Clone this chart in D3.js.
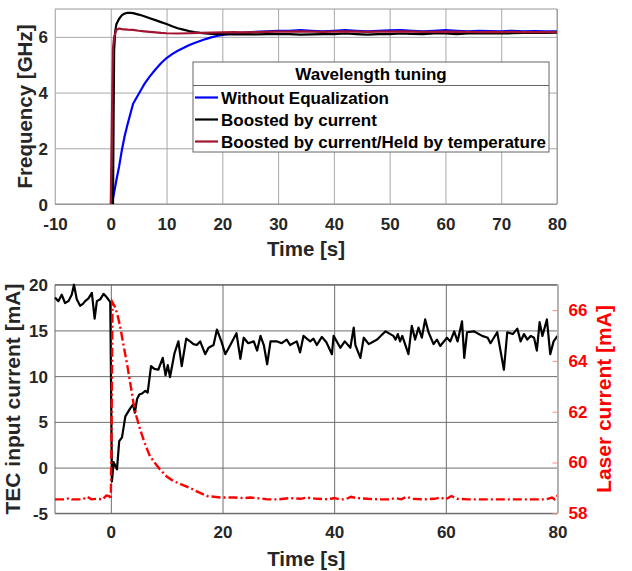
<!DOCTYPE html>
<html>
<head>
<meta charset="utf-8">
<script src="https://cdn.jsdelivr.net/npm/d3@7"></script>
<style>
  body { margin: 0; background: #fff; }
  svg { display: block; font-family: "Liberation Sans", Arial, sans-serif; font-weight: bold; }
</style>
</head>
<body>
<svg width="632" height="571"></svg>
<script>
// ---- top chart: wavelength tuning ----
var blue_t = [0.2, 0.5, 1, 1.5, 2, 2.5, 3, 4, 5, 6, 7, 8, 9, 10, 11, 12, 13, 14, 15, 16, 17, 18, 19, 20,
  22, 24, 26, 28, 30, 32, 34, 36, 38, 40, 42, 44, 46, 48, 50, 52, 54, 56, 58, 60, 62, 64, 66, 68, 70, 72, 74, 76, 78, 80];
var blue_f = [0, 0.3, 0.85, 1.35, 1.95, 2.45, 2.85, 3.6, 3.95, 4.3, 4.58, 4.83, 5.05, 5.24, 5.38, 5.5, 5.6, 5.7, 5.78, 5.85, 5.92, 5.98, 6.03, 6.07,
  6.12, 6.15, 6.18, 6.2, 6.22, 6.22, 6.24, 6.22, 6.2, 6.22, 6.24, 6.22, 6.2, 6.22, 6.23, 6.24, 6.22, 6.2, 6.22, 6.24, 6.22, 6.2, 6.22, 6.21, 6.2, 6.22, 6.2, 6.21, 6.2, 6.2];

var black_t = [0.4, 0.5, 0.6, 0.8, 1, 1.5, 2, 2.5, 3, 3.5, 4, 5, 6, 7, 8, 9, 10, 11, 12, 13, 14, 15, 16, 17, 18, 19, 20,
  22, 24, 26, 28, 30, 32, 34, 36, 38, 40, 42, 44, 46, 48, 50, 52, 54, 56, 58, 60, 62, 64, 66, 68, 70, 72, 74, 76, 78, 80];
var black_f = [0, 3.0, 5.5, 6.2, 6.45, 6.65, 6.78, 6.84, 6.86, 6.86, 6.85, 6.8, 6.74, 6.67, 6.6, 6.53, 6.46, 6.38, 6.31, 6.26, 6.21, 6.17, 6.14, 6.12, 6.11, 6.1, 6.1,
  6.09, 6.1, 6.09, 6.1, 6.1, 6.1, 6.08, 6.09, 6.1, 6.1, 6.12, 6.1, 6.08, 6.1, 6.1, 6.12, 6.11, 6.1, 6.12, 6.12, 6.1, 6.12, 6.13, 6.12, 6.12, 6.13, 6.14, 6.14, 6.14, 6.15];

var held_t = [0, 0.2, 0.4, 0.6, 1, 1.5, 2, 3, 4, 5, 6, 7, 8, 9, 10, 12, 14, 16, 18, 20,
  22, 24, 26, 28, 30, 32, 34, 36, 38, 40, 42, 44, 46, 48, 50, 52, 54, 56, 58, 60, 62, 64, 66, 68, 70, 72, 74, 76, 78, 80];
var held_f = [0, 3, 5.6, 6.0, 6.25, 6.3, 6.28, 6.26, 6.25, 6.22, 6.2, 6.18, 6.16, 6.14, 6.13, 6.12, 6.13, 6.14, 6.15, 6.16,
  6.17, 6.16, 6.17, 6.18, 6.19, 6.19, 6.2, 6.19, 6.18, 6.19, 6.2, 6.19, 6.18, 6.19, 6.19, 6.2, 6.19, 6.18, 6.18, 6.19, 6.18, 6.18, 6.17, 6.18, 6.17, 6.18, 6.17, 6.17, 6.17, 6.17];

var legend_title = "Wavelength tuning";
var legend_names = ["Without Equalization", "Boosted by current", "Boosted by current/Held by temperature"];
var series_colors = ["#0000ff", "#000000", "#a2142f"];

// ---- bottom chart: TEC and laser current ----
var tec_t = [-10, -9.4, -8.8, -8.2, -7.6, -7.0, -6.6, -6.1, -5.5, -5.0, -4.6, -4.0, -3.4, -2.9, -2.5, -1.9, -1.3, -0.7, -0.1,
  0.2, 0.5, 0.8, 1.1, 1.5, 2.0, 2.6, 3.5, 4.0, 4.3, 4.7, 5.1, 5.6, 6.2, 6.6, 7.2, 7.8, 8.5, 9.3, 9.8, 10.2, 10.6, 11.4,
  12.1, 12.7, 13.5, 14.2, 14.8, 15.4, 16.0, 16.9, 17.5, 18.4, 19.0, 19.8, 20.5, 21.4, 22.5, 23.2, 23.8, 24.6, 25.6, 26.2,
  26.8, 27.4, 28.0, 28.6, 29.8, 30.6, 31.5, 32.1, 33.3, 33.9, 34.5, 35.7, 36.3, 36.9, 37.8, 38.6, 39.6, 39.9, 41.1, 41.9,
  42.9, 43.5, 43.8, 44.7, 45.3, 46.2, 47.7, 49.2, 50.6, 51.0, 51.4, 51.8, 52.2, 53.3, 53.9, 54.5, 55.1, 55.7, 56.3, 56.9,
  57.8, 58.4, 59.0, 60.2, 60.8, 61.5, 62.1, 62.9, 63.3, 63.8, 65.0, 66.5, 67.5, 68.0, 69.2, 70.4, 71.0, 72.0, 72.8, 73.4,
  74.0, 74.6, 75.2, 75.8, 76.3, 76.8, 77.3, 78.1, 78.7, 79.3, 80.0];
var tec_ma = [18.6, 18.2, 18.9, 18.0, 18.2, 18.9, 20.0, 18.4, 17.7, 17.9, 18.2, 18.5, 19.1, 16.3, 18.2, 18.4, 19.0, 18.6, 18.1,
  -1.5, 0.6, 0.2, -0.2, 2.9, 3.3, 5.6, 6.5, 6.9, 6.0, 7.5, 8.0, 8.1, 8.4, 8.2, 11.1, 10.8, 10.7, 12.0, 10.1, 11.2, 9.9, 12.5,
  13.8, 11.1, 14.1, 13.8, 13.5, 13.4, 13.8, 12.4, 13.1, 13.4, 15.1, 13.8, 12.4, 13.4, 14.7, 11.9, 14.2, 13.6, 13.8, 12.8,
  14.4, 13.4, 11.3, 13.8, 13.8, 13.6, 14.0, 13.4, 13.8, 12.6, 14.4, 13.8, 14.1, 13.4, 14.3, 13.7, 12.4, 14.4, 13.1, 13.8,
  13.1, 15.3, 13.4, 12.0, 14.2, 13.5, 14.0, 14.9, 14.4, 14.0, 14.6, 13.8, 14.4, 12.4, 15.5, 14.0, 15.3, 14.2, 16.2, 14.8,
  13.5, 14.0, 13.3, 14.2, 13.8, 14.9, 13.8, 16.0, 12.0, 14.8, 14.9, 14.4, 14.2, 13.6, 14.8, 10.7, 14.8, 14.6, 15.2, 13.8,
  14.6, 14.0, 14.4, 14.2, 12.8, 15.9, 14.4, 16.2, 12.4, 13.8, 14.4];

var laser_t = [-10, -9, -8, -7.5, -7, -6, -5, -4.2, -3.5, -2.5, -1.5, -0.8, -0.3, 0, 0.15, 0.3, 0.8, 1.2, 1.67, 2.2, 2.87,
  3.5, 4.05, 4.6, 5.25, 6.0, 7.0, 8.0, 8.8, 10.0, 11.2, 12.5, 14.2, 15.5, 17.2, 19.6, 22, 24, 25, 27, 28, 30, 32, 34, 35,
  37, 39, 40, 41, 42, 43, 44, 46, 48, 50, 51, 52, 53, 54, 56, 58, 59, 60, 61, 62, 64, 66, 68, 70, 72, 74, 76, 78, 79, 79.5, 80];
var laser_ma = [58.55, 58.55, 58.55, 58.6, 58.55, 58.55, 58.55, 58.65, 58.55, 58.57, 58.55, 58.7, 58.68, 58.55, 62, 66.3, 66.1, 65.8, 65.36, 64.7, 63.92,
  63.1, 62.35, 61.8, 61.3, 60.8, 60.25, 59.95, 59.73, 59.45, 59.27, 59.15, 59.0, 58.85, 58.68, 58.62, 58.62, 58.6, 58.62, 58.58, 58.55, 58.55, 58.6, 58.57, 58.62,
  58.57, 58.55, 58.6, 58.55, 58.55, 58.65, 58.6, 58.57, 58.55, 58.55, 58.6, 58.55, 58.65, 58.57, 58.55, 58.57, 58.62, 58.55, 58.68, 58.57, 58.55, 58.55, 58.55, 58.55, 58.55, 58.55, 58.55, 58.55, 58.62, 58.55, 58.7];

var top_x_ticks = [-10, 0, 10, 20, 30, 40, 50, 60, 70, 80];
var top_y_ticks = [0, 2, 4, 6];
var bot_x_ticks = [0, 20, 40, 60, 80];
var bot_y_ticks = [-5, 0, 5, 10, 15, 20];
var bot_y2_ticks = [58, 60, 62, 64, 66];

var txt = "#262626";
var svg = d3.select("svg");
var fmt = function(d) { return String(d); };  // plain hyphen minus, no decimals

function zip(ts, vs) { return ts.map(function(t, i) { return [t, vs[i]]; }); }

// ===== top chart =====
var p1 = { l: 55, r: 557, t: 9, b: 204 };
var x1 = d3.scaleLinear().domain([-10, 80]).range([p1.l, p1.r]);
var y1 = d3.scaleLinear().domain([0, 7]).range([p1.b, p1.t]);

var g1 = svg.append("g");
g1.append("g")
  .attr("transform", "translate(0," + p1.b + ")")
  .call(d3.axisBottom(x1).tickValues(top_x_ticks).tickSize(-(p1.b - p1.t)).tickFormat(""))
  .call(function(g) { g.select(".domain").remove(); g.selectAll("line").attr("stroke", "#a8a8a8"); });
g1.append("g")
  .attr("transform", "translate(" + p1.l + ",0)")
  .call(d3.axisLeft(y1).tickValues(top_y_ticks).tickSize(-(p1.r - p1.l)).tickFormat(""))
  .call(function(g) { g.select(".domain").remove(); g.selectAll("line").attr("stroke", "#a8a8a8"); });

// frame
g1.append("line").attr("x1", p1.l).attr("x2", p1.r).attr("y1", p1.t).attr("y2", p1.t).attr("stroke", "#999");
g1.append("line").attr("x1", p1.r).attr("x2", p1.r).attr("y1", p1.t).attr("y2", p1.b).attr("stroke", "#999");
g1.append("line").attr("x1", p1.l).attr("x2", p1.l).attr("y1", p1.t).attr("y2", p1.b).attr("stroke", "#c4c4c4");
g1.append("line").attr("x1", p1.l).attr("x2", p1.r).attr("y1", p1.b).attr("y2", p1.b).attr("stroke", "#888");

var line1 = d3.line().x(function(d) { return x1(d[0]); }).y(function(d) { return y1(d[1]); });
var top_series = [zip(blue_t, blue_f), zip(black_t, black_f), zip(held_t, held_f)];
top_series.forEach(function(s, i) {
  g1.append("path").datum(s).attr("d", line1)
    .attr("fill", "none").attr("stroke", series_colors[i]).attr("stroke-width", 2.2)
    .attr("stroke-linejoin", "round");
});

// tick labels
g1.append("g").attr("transform", "translate(0," + p1.b + ")")
  .call(d3.axisBottom(x1).tickValues(top_x_ticks).tickFormat(fmt).tickSize(0).tickPadding(0))
  .call(function(g) {
    g.select(".domain").remove();
    g.selectAll("text").attr("dy", null).attr("y", 26).attr("fill", txt)
      .style("font-size", "17px").style("font-family", "inherit");
  });
g1.append("g").attr("transform", "translate(" + (p1.l - 7) + ",0)")
  .call(d3.axisLeft(y1).tickValues(top_y_ticks).tickFormat(fmt).tickSize(0).tickPadding(0))
  .call(function(g) {
    g.select(".domain").remove();
    g.selectAll("text").attr("dy", "0.36em").attr("x", 0).attr("fill", txt)
      .style("font-size", "17px").style("font-family", "inherit");
  });

g1.append("text").attr("x", (p1.l + p1.r) / 2).attr("y", 256).attr("text-anchor", "middle")
  .attr("fill", txt).style("font-size", "20.5px").text("Time [s]");
g1.append("text").attr("transform", "translate(32," + ((p1.t + p1.b) / 2) + ") rotate(-90)")
  .attr("text-anchor", "middle").attr("fill", txt).style("font-size", "20.5px").text("Frequency [GHz]");

// legend
var lg = g1.append("g");
lg.append("rect").attr("x", 193).attr("y", 62).attr("width", 356).attr("height", 90)
  .attr("fill", "#fff").attr("stroke", "#666").attr("stroke-width", 1);
lg.append("line").attr("x1", 193).attr("x2", 549).attr("y1", 85.5).attr("y2", 85.5).attr("stroke", "#666");
lg.append("text").attr("x", 371).attr("y", 80).attr("text-anchor", "middle").attr("fill", "#000")
  .style("font-size", "17px").text(legend_title);
legend_names.forEach(function(n, i) {
  var yy = 104 + i * 22;
  lg.append("line").attr("x1", 195).attr("x2", 218).attr("y1", yy - 6.5).attr("y2", yy - 6.5)
    .attr("stroke", series_colors[i]).attr("stroke-width", 2.2);
  lg.append("text").attr("x", 221).attr("y", yy).attr("fill", "#000").style("font-size", "17px").text(n);
});

// ===== bottom chart =====
var p2 = { l: 55, r: 557.5, t: 284.7, b: 513.3 };
var x2 = d3.scaleLinear().domain([-10, 80]).range([p2.l, p2.r]);
var y2 = d3.scaleLinear().domain([-5, 20]).range([p2.b, p2.t]);
var y2r = d3.scaleLinear().domain([58, 67]).range([p2.b, p2.t]);

var g2 = svg.append("g");
g2.append("g").attr("transform", "translate(0," + p2.b + ")")
  .call(d3.axisBottom(x2).tickValues(bot_x_ticks).tickSize(-(p2.b - p2.t)).tickFormat(""))
  .call(function(g) { g.select(".domain").remove(); g.selectAll("line").attr("stroke", "#6e6e6e"); });
g2.append("g").attr("transform", "translate(" + p2.l + ",0)")
  .call(d3.axisLeft(y2).tickValues(bot_y_ticks).tickSize(-(p2.r - p2.l)).tickFormat(""))
  .call(function(g) { g.select(".domain").remove(); g.selectAll("line").attr("stroke", "#6e6e6e"); });

g2.append("line").attr("x1", p2.l).attr("x2", p2.r).attr("y1", p2.t).attr("y2", p2.t).attr("stroke", "#666");
g2.append("line").attr("x1", p2.l).attr("x2", p2.l).attr("y1", p2.t).attr("y2", p2.b).attr("stroke", "#666");
g2.append("line").attr("x1", p2.l).attr("x2", p2.r).attr("y1", p2.b).attr("y2", p2.b).attr("stroke", "#666");

var line_tec = d3.line().x(function(d) { return x2(d[0]); }).y(function(d) { return y2(d[1]); });
var line_laser = d3.line().x(function(d) { return x2(d[0]); }).y(function(d) { return y2r(d[1]); });

g2.append("path").datum(zip(tec_t, tec_ma)).attr("d", line_tec)
  .attr("fill", "none").attr("stroke", "#000").attr("stroke-width", 2.2).attr("stroke-linejoin", "round");
g2.append("path").datum(zip(laser_t, laser_ma)).attr("d", line_laser)
  .attr("fill", "none").attr("stroke", "#ff0000").attr("stroke-width", 2.4)
  .attr("stroke-dasharray", "9,3,2,3");

// right axis
g2.append("g").attr("transform", "translate(" + p2.r + ",0)")
  .call(d3.axisRight(y2r).tickValues(bot_y2_ticks).tickFormat(fmt).tickSizeInner(-5).tickSizeOuter(0).tickPadding(11))
  .call(function(g) {
    g.select(".domain").attr("stroke", "#ff8c8c").attr("d", "M0," + p2.t + "V" + p2.b);
    g.selectAll("line").attr("stroke", "#ff8c8c");
    g.selectAll("text").attr("fill", "#ff0000").style("font-size", "17px").style("font-family", "inherit");
  });

g2.append("g").attr("transform", "translate(0," + p2.b + ")")
  .call(d3.axisBottom(x2).tickValues(bot_x_ticks).tickFormat(fmt).tickSize(0).tickPadding(0))
  .call(function(g) {
    g.select(".domain").remove();
    g.selectAll("text").attr("dy", null).attr("y", 25).attr("fill", txt)
      .style("font-size", "17px").style("font-family", "inherit");
  });
g2.append("g").attr("transform", "translate(" + (p2.l - 7) + ",0)")
  .call(d3.axisLeft(y2).tickValues(bot_y_ticks).tickFormat(fmt).tickSize(0).tickPadding(0))
  .call(function(g) {
    g.select(".domain").remove();
    g.selectAll("text").attr("dy", "0.36em").attr("x", 0).attr("fill", txt)
      .style("font-size", "17px").style("font-family", "inherit");
  });

g2.append("text").attr("x", (p2.l + p2.r) / 2).attr("y", 566).attr("text-anchor", "middle")
  .attr("fill", txt).style("font-size", "20.5px").text("Time [s]");
g2.append("text").attr("transform", "translate(20," + ((p2.t + p2.b) / 2) + ") rotate(-90)")
  .attr("text-anchor", "middle").attr("fill", txt).style("font-size", "21px").text("TEC input current [mA]");
g2.append("text").attr("transform", "translate(611," + ((p2.t + p2.b) / 2) + ") rotate(-90)")
  .attr("text-anchor", "middle").attr("fill", "#ff0000").style("font-size", "21px").text("Laser current [mA]");
</script>
</body>
</html>
